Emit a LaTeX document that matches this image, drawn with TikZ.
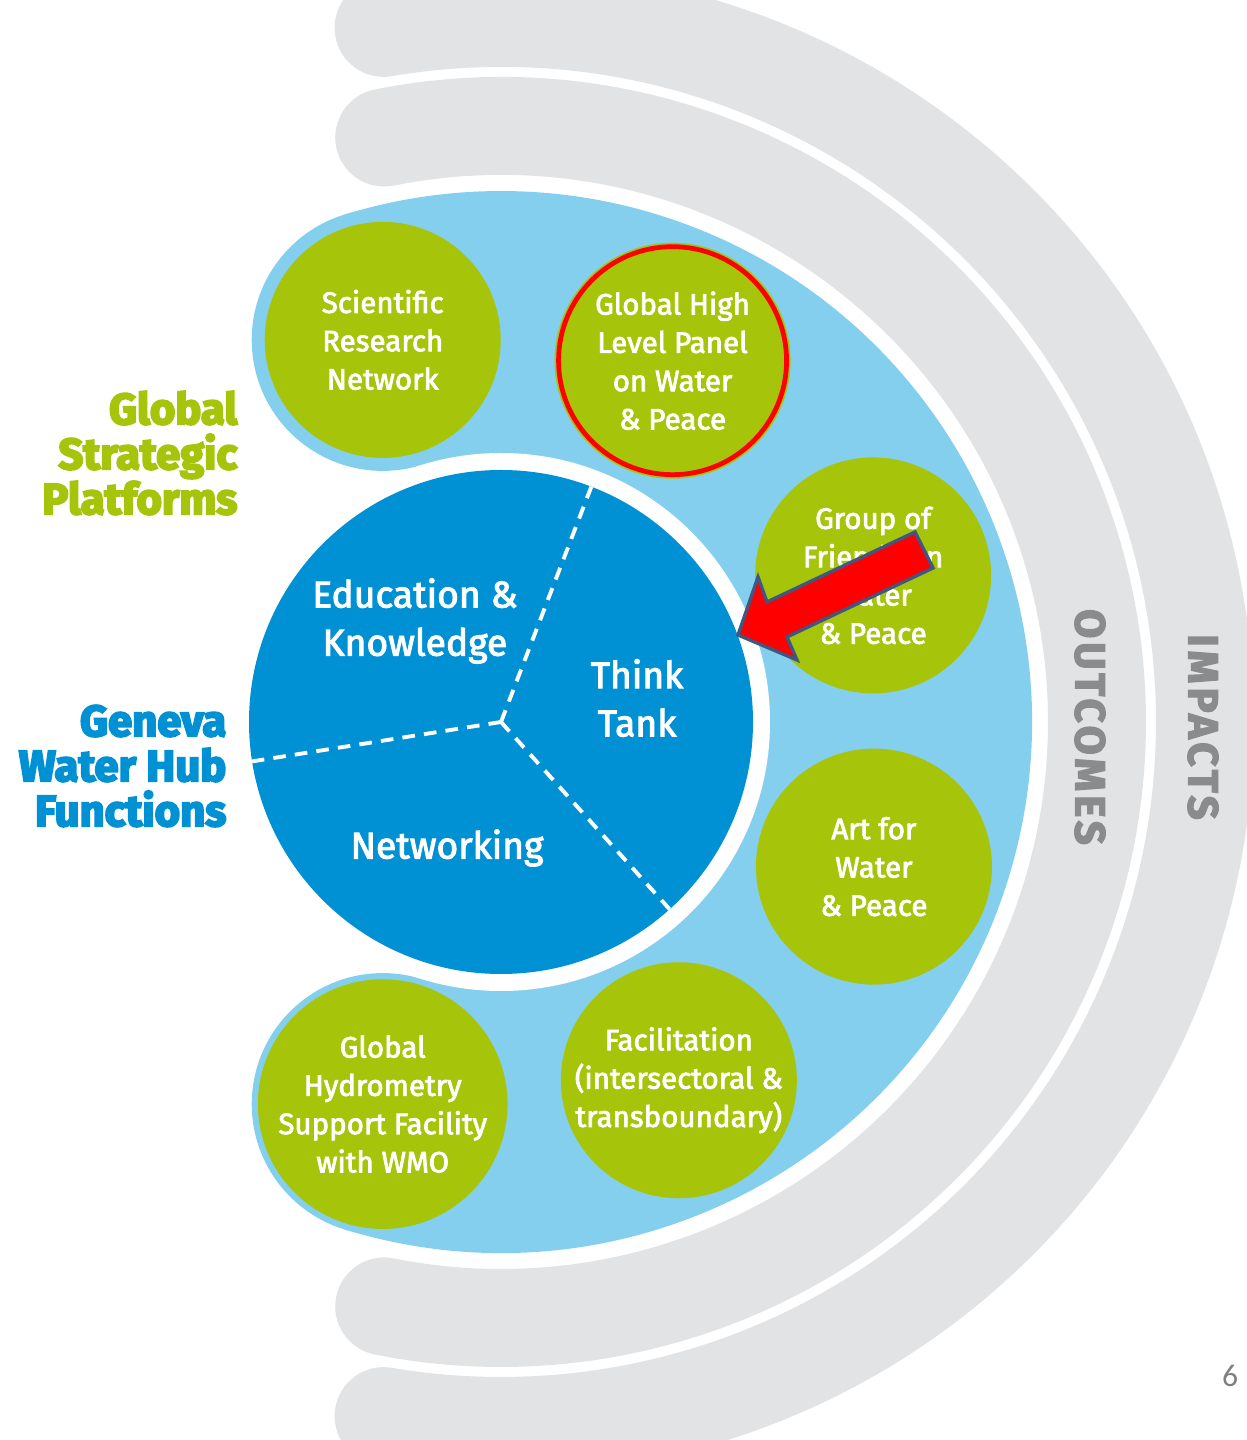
\documentclass[tikz,border=0pt]{standalone}
\usepackage{fontspec}
\setmainfont{Fira Sans}
\newfontfamily\platformfont{Fira Sans}[FakeBold=2.6]
\newfontfamily\headingfont{Fira Sans}[FakeBold=4.5]
\newfontfamily\bandfont{Fira Sans}[FakeBold=3,LetterSpace=9]
\newfontfamily\slidefont{Carlito}

\definecolor{hubblue}{RGB}{0,145,212}
\definecolor{skyblue}{RGB}{133,207,238}
\definecolor{limegreen}{RGB}{166,196,10}
\definecolor{bandgray}{RGB}{226,227,229}
\definecolor{labelgray}{RGB}{138,139,141}
\definecolor{arrowedge}{RGB}{62,88,132}
\definecolor{pagegray}{RGB}{128,128,128}

\begin{document}
\begin{tikzpicture}[x=0.1mm,y=0.1mm,
    platform/.style={circle,fill=limegreen,minimum size=23.6mm,inner sep=0pt,
      text=white,align=center,font=\platformfont\fontsize{8.4}{10.9}\selectfont},
    hublabel/.style={text=white,align=center,inner sep=0pt,
      font=\platformfont\fontsize{10.6}{13.7}\selectfont},
    heading/.style={anchor=east,align=right,inner sep=0pt,
      font=\headingfont\bfseries\fontsize{12.4}{12.8}\selectfont},
    band/.style={draw=bandgray,line width=9.8mm,line cap=round},
    bandlabel/.style={text=labelgray,rotate=-90,inner sep=0pt,
      font=\bandfont\bfseries\fontsize{12}{14}\selectfont},
    divider/.style={white,line width=1.1pt,dash pattern=on 3.6pt off 2.6pt}]

        % frame of the slide
        \useasboundingbox (-501,-718) rectangle (746,722);
        \clip (-501,-718) rectangle (746,722);

        % grey bands: outcomes and impacts
	\draw[band] (101.3:596) arc[start angle=101.3,end angle=-101.3,radius=596];
	\draw[band] (99.6:704) arc[start angle=99.6,end angle=-99.6,radius=704];

	% light blue area of the platforms
	\fill[skyblue] (0,0) -- (-107.2:531) arc[start angle=-107.2,end angle=107.2,radius=531] -- cycle;
	\fill[skyblue] (107.2:400) circle[radius=131];
	\fill[skyblue] (-107.2:400) circle[radius=131];

	% the hub and its white ring
	\node[circle,fill=white,minimum size=53.8mm,inner sep=0pt] (ring) at (0,0) {};
	\node[circle,fill=hubblue,minimum size=50.4mm,inner sep=0pt,outer sep=0pt] (hub) at (0,0) {};
	\draw[divider] (hub.center) -- (hub.69.8);
	\draw[divider] (hub.center) -- (hub.189.3);
	\draw[divider] (hub.center) -- (hub.-48.9);

	% functions of the hub
	\node[hublabel] (education) at (-86,101) {Education \&\\Knowledge};
	\node[hublabel] (thinktank) at (136,24) {Think\\Tank};
	\node[hublabel] (networking) at (-54,-126) {Networking};

	% the six platforms
	\node[platform] (science) at (107.2:400) {Scientific\\Research\\Network};
	\node[platform] (panel) at (64.6:400) {Global High\\Level Panel\\on Water\\\& Peace};
	\node[platform] (friends) at (21.5:400) {Group of\\Friends on\\Water\\\& Peace};
	\node[platform] (art) at (-21.2:400) {Art for\\Water\\\& Peace};
	\node[platform] (facilitation) at (-63.6:400) {Facilitation\\(intersectoral \&\\transboundary)};
	\node[platform] (hydrometry) at (-107.2:400) {Global\\Hydrometry\\Support Facility\\with WMO};

	% red ring round the panel
	\node[circle,draw=red,line width=1.35pt,minimum size=22.8mm,inner sep=0pt] (highlight) at (panel) {};

	% red block arrow pointing at the think tank
	\filldraw[fill=red,draw=arrowedge,line width=0.95pt,line join=miter]
	      (237,87) -- (257,145) -- (266,120) -- (414,190) -- (432,154)
	      -- (286,85) -- (296,62) -- cycle;

	% side titles
	\node[heading,text=limegreen] (platforms) at (-263,269) {Global\\Strategic\\Platforms};
	\node[heading,text=hubblue] (functions) at (-274,-44) {Geneva\\Water Hub\\Functions};

	% band titles
	\node[bandlabel] (outcomes) at (589,-5) {OUTCOMES};
	\node[bandlabel] (impacts) at (702,-5) {IMPACTS};

	% slide number
	\node[text=pagegray,font=\slidefont\fontsize{9}{10}\selectfont] (pagenum) at (729,-654) {6};

\end{tikzpicture}
\end{document}
